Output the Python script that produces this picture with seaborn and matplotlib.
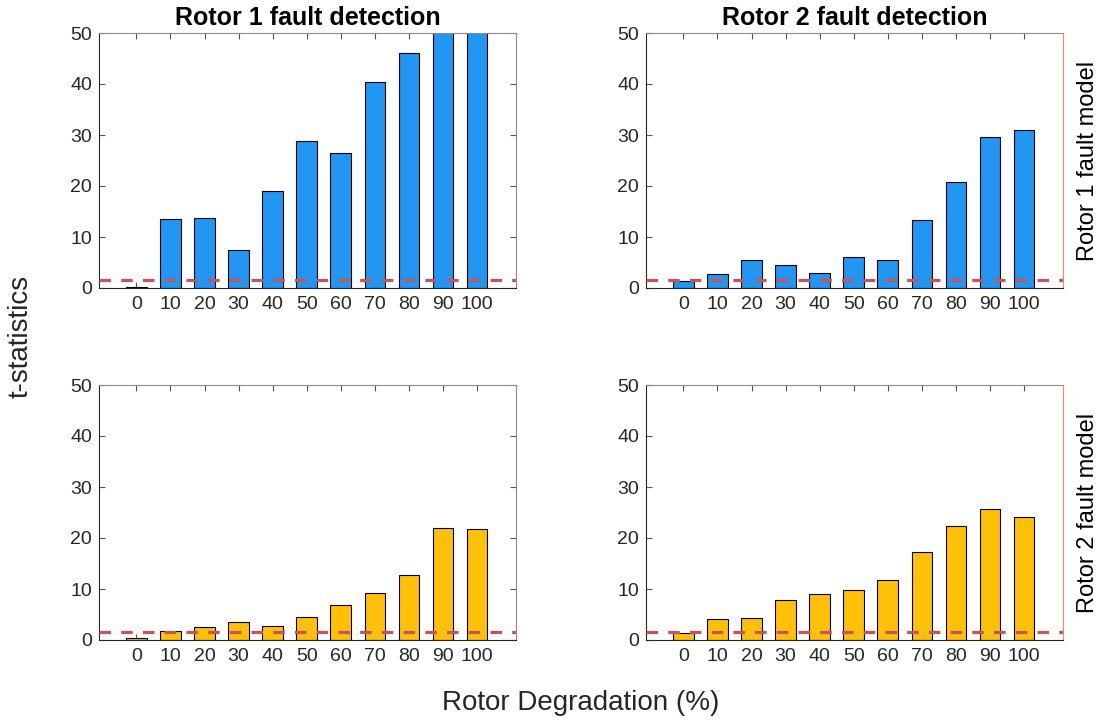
import matplotlib
matplotlib.use("Agg")
import matplotlib.pyplot as plt
import seaborn as sns
import pandas as pd

# Degradation levels (%) on the x axis
degradation = ["0", "10", "20", "30", "40", "50", "60", "70", "80", "90", "100"]

# t-statistics: rows = fault model, columns = rotor whose fault is detected
r1model_r1det = [0.2, 13.6, 13.7, 7.4, 19.1, 28.9, 26.4, 40.3, 46.1, 55.4, 60.2]
r1model_r2det = [1.3, 2.8, 5.5, 4.6, 3.0, 6.1, 5.45, 13.4, 20.7, 29.7, 30.9]
r2model_r1det = [0.4, 1.8, 2.56, 3.5, 2.75, 4.5, 6.9, 9.3, 12.7, 21.9, 21.7]
r2model_r2det = [1.45, 4.2, 4.4, 7.9, 9.06, 9.84, 11.7, 17.3, 22.3, 25.6, 24.2]

threshold = 1.65

col_titles = ["Rotor 1 fault detection", "Rotor 2 fault detection"]
row_labels = ["Rotor 1 fault model", "Rotor 2 fault model"]
bar_colors = ["#2196F3", "#FFC107"]

sns.set_theme(style="white")
plt.rcParams["font.family"] = ["Liberation Sans", "DejaVu Sans"]
text_color = "#262626"

fig = plt.figure(figsize=(11.02, 7.23), dpi=100)
W, H = 1102, 723
ax_w, ax_h = 417 / W, 255 / H
lefts = [99 / W, 646 / W]
bottoms = [(H - 288) / H, (H - 640) / H]

panels = [[r1model_r1det, r1model_r2det], [r2model_r1det, r2model_r2det]]

for r in range(2):
    for c in range(2):
        ax = fig.add_axes([lefts[c], bottoms[r], ax_w, ax_h])
        df = pd.DataFrame({"deg": degradation, "t": panels[r][c]})
        sns.barplot(data=df, x="deg", y="t", order=degradation, color=bar_colors[r],
                    saturation=1, width=0.6, edgecolor="black", linewidth=0.8,
                    errorbar=None, ax=ax, zorder=2)
        ax.axhline(threshold, color="#C8545B", lw=2.3, ls=(0, (3.6, 3.2)), zorder=3)
        ax.set_xlim(-1.1, 11.15)
        ax.set_ylim(0, 50)
        ax.set_yticks(range(0, 51, 10))
        ax.set_xlabel("")
        ax.set_ylabel("")
        right_ticks = (c == 0)
        ax.tick_params(axis="both", direction="in", length=4, width=0.8,
                       colors="#555555", labelcolor=text_color, labelsize=14)
        ax.tick_params(axis="x", top=True, bottom=True, pad=6)
        ax.tick_params(axis="y", left=True, right=right_ticks, pad=5)
        for side in ["left", "bottom"]:
            ax.spines[side].set_color("#262626")
            ax.spines[side].set_linewidth(0.8)
        ax.spines["top"].set_color("#8a8a8a")
        ax.spines["top"].set_linewidth(0.8)
        if c == 1:
            ax.spines["right"].set_color("#E0916E")
        else:
            ax.spines["right"].set_color("#8a8a8a")
        ax.spines["right"].set_linewidth(0.8)
        if r == 0:
            ax.set_title(col_titles[c], fontsize=18, fontweight="bold",
                         color="black", pad=6)
        if c == 1:
            yc = bottoms[r] + ax_h / 2
            fig.text(1088 / W, yc, row_labels[r], rotation=90, ha="center",
                     va="center", fontsize=17, color="black")

fig.text(0.019, (bottoms[0] + ax_h + bottoms[1]) / 2, "t-statistics", rotation=90,
         ha="center", va="center", fontsize=20, color=text_color)
fig.text((lefts[0] + lefts[1] + ax_w) / 2, 0.028, "Rotor Degradation (%)",
         ha="center", va="center", fontsize=20, color=text_color)

fig.savefig("out.png", dpi=100)
